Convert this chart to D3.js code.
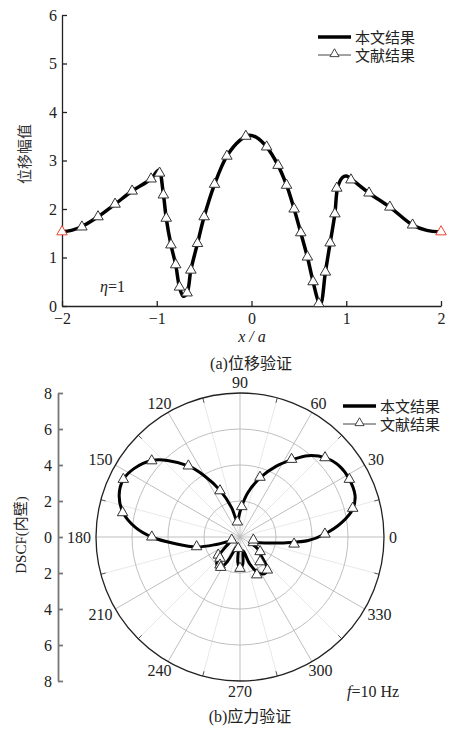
<!DOCTYPE html>
<html>
<head>
<meta charset="utf-8">
<script src="https://cdn.jsdelivr.net/npm/d3@7"></script>
<style>
body { margin: 0; background: #fff; }
text { font-family: "Liberation Serif", "Times New Roman", serif; }
.cjk { font-family: "Noto Sans CJK SC", sans-serif; }
</style>
</head>
<body>
<div id="chart-area"></div>
<script>
// ---- (a) displacement check ----
var xLine = [-2.00,-1.90,-1.79,-1.62,-1.44,-1.26,-1.06,-0.98,-0.93,-0.90,-0.85,-0.80,-0.76,-0.72,-0.68,-0.64,-0.57,-0.50,-0.39,-0.26,-0.12,-0.03,0.05,0.16,0.28,0.37,0.45,0.52,0.59,0.65,0.71,0.73,0.78,0.83,0.88,0.91,0.96,1.00,1.05,1.24,1.46,1.70,1.85,2.00];
var yLine = [1.53,1.56,1.64,1.84,2.10,2.37,2.62,2.80,2.30,1.81,1.26,0.85,0.39,0.20,0.27,0.74,1.29,1.84,2.51,3.09,3.42,3.52,3.48,3.28,2.90,2.49,2.00,1.51,1.01,0.50,0.08,0.05,0.70,1.30,1.90,2.45,2.65,2.68,2.62,2.33,2.04,1.67,1.56,1.53];
var xTri = [-2.00,-1.79,-1.62,-1.44,-1.26,-1.06,-0.97,-0.93,-0.90,-0.85,-0.80,-0.76,-0.68,-0.64,-0.57,-0.50,-0.39,-0.26,-0.06,0.16,0.28,0.37,0.45,0.52,0.59,0.65,0.71,0.78,0.83,0.88,0.90,1.05,1.24,1.46,1.70,2.00];
var yTri = [1.53,1.63,1.84,2.10,2.37,2.62,2.74,2.29,1.81,1.26,0.85,0.39,0.27,0.74,1.29,1.84,2.51,3.09,3.50,3.28,2.90,2.49,2.00,1.51,1.01,0.50,0.05,0.70,1.30,1.90,2.43,2.60,2.33,2.04,1.67,1.53];
var xTicks = [-2,-1,0,1,2];
var yTicks = [0,1,2,3,4,5,6];

// ---- (b) stress check, polar ----
var thetaLine = [-23,-12,-7,-3,2,8,14,20,28,35,43,50,56,63,71,80,87,94,100,106,113,120,126,133,139,147,154,161,168,175,180,186,193,198,205,215,222,230,237,243,250,258,265,270,276,283,290,298,306,312,318,326,333];
var rLine =     [0.8,1.6,2.6,3.8,4.72,5.7,6.46,6.8,6.87,6.8,6.46,5.9,5.18,4.4,3.5,2.5,1.69,1.1,0.85,1.7,2.8,3.9,4.88,5.8,6.48,7.0,7.23,7.1,6.66,5.8,4.9,3.6,2.47,1.3,0.6,1.0,1.6,2.0,2.05,1.5,0.6,0.5,1.4,1.8,1.5,0.8,1.6,2.3,2.45,2.2,1.6,1.2,0.7];
var thetaTri = [2,14.3,27.8,43,56.4,71.5,86.8,100,113.4,126,139.2,153.7,168.3,180,192.6,200,219.7,226.8,234.5,237.5,261,270,294,309.6,309,324,337,347.3,352.6];
var rTri =     [4.72,6.46,6.87,6.46,5.18,3.5,1.69,0.85,2.8,4.88,6.48,7.23,6.66,4.9,2.47,0.49,1.57,1.62,1.91,2.0,0.64,1.74,2.3,2.38,1.77,1.38,0.8,0.76,3.03];
var angleTicks = [0,30,60,90,120,150,180,210,240,270,300,330];
var rTicks = [-8,-6,-4,-2,0,2,4,6,8];
var legendNames = ["本文结果", "文献结果"];

var W = 455, H = 729;
var svg = d3.select("#chart-area").append("svg")
    .attr("width", W).attr("height", H);

var tri = d3.symbol().type(d3.symbolTriangle).size(48);
var fmt = d3.format("d");

// ===== top chart =====
var x = d3.scaleLinear().domain([-2, 2]).range([62, 441]);
var y = d3.scaleLinear().domain([0, 6]).range([306, 15]);

var ga = svg.append("g");

ga.append("g")
    .attr("transform", "translate(62,0)")
    .call(d3.axisLeft(y).tickValues(yTicks).tickFormat(fmt).tickSizeInner(-5).tickSizeOuter(0).tickPadding(5))
    .call(g => g.selectAll("text").attr("font-size", 16).attr("font-family", "Liberation Serif").attr("fill", "#222"))
    .call(g => g.selectAll("line,path").attr("stroke", "#222").attr("stroke-width", 1.3));

ga.append("g")
    .attr("transform", "translate(0,306)")
    .call(d3.axisBottom(x).tickValues(xTicks).tickFormat(fmt).tickSizeInner(-5).tickSizeOuter(0).tickPadding(7))
    .call(g => g.selectAll("text").attr("font-size", 16).attr("font-family", "Liberation Serif").attr("fill", "#222"))
    .call(g => g.selectAll("line,path").attr("stroke", "#222").attr("stroke-width", 1.3));

var lineA = d3.line()
    .x((d, i) => x(xLine[i]))
    .y((d, i) => y(yLine[i]))
    .curve(d3.curveCatmullRom);

ga.append("path")
    .attr("d", lineA(xLine))
    .attr("fill", "none")
    .attr("stroke", "#000")
    .attr("stroke-width", 3.5);

ga.selectAll(".tri")
    .data(xTri)
    .enter().append("path")
    .attr("d", tri)
    .attr("transform", (d, i) => "translate(" + x(d) + "," + y(yTri[i]) + ")")
    .attr("fill", "#fff")
    .attr("stroke", (d, i) => (i === 0 || i === xTri.length - 1) ? "#e8472f" : "#333")
    .attr("stroke-width", 1);

ga.append("text")
    .attr("class", "cjk")
    .attr("transform", "translate(30,154) rotate(-90)")
    .attr("text-anchor", "middle")
    .attr("font-size", 15)
    .attr("fill", "#333")
    .text("位移幅值");

var eta = ga.append("text").attr("x", 100).attr("y", 292).attr("font-size", 16).attr("fill", "#222");
eta.append("tspan").attr("font-style", "italic").text("η");
eta.append("tspan").text("=1");

ga.append("text").attr("x", 252).attr("y", 342).attr("text-anchor", "middle")
    .attr("font-size", 16).attr("font-style", "italic").attr("fill", "#222")
    .text("x / a");

var capA = ga.append("text").attr("x", 251).attr("y", 369).attr("text-anchor", "middle")
    .attr("font-size", 16).attr("fill", "#222");
capA.append("tspan").text("(a)");
capA.append("tspan").attr("class", "cjk").text("位移验证");

// legend
function legend(g, lx, ly) {
    g.append("line").attr("x1", lx).attr("x2", lx + 33).attr("y1", ly).attr("y2", ly)
        .attr("stroke", "#000").attr("stroke-width", 3.5);
    g.append("line").attr("x1", lx).attr("x2", lx + 33).attr("y1", ly + 18).attr("y2", ly + 18)
        .attr("stroke", "#444").attr("stroke-width", 1);
    g.append("path").attr("d", d3.symbol().type(d3.symbolTriangle).size(36))
        .attr("transform", "translate(" + (lx + 16.5) + "," + (ly + 17) + ")")
        .attr("fill", "#fff").attr("stroke", "#444").attr("stroke-width", 1);
    legendNames.forEach((n, i) => {
        g.append("text").attr("class", "cjk").attr("font-size", 15).attr("fill", "#222")
            .attr("x", lx + 37).attr("y", ly + 5.5 + i * 18).text(n);
    });
}
legend(ga, 318, 37);

// ===== polar chart =====
var cx = 240, cy = 537, R = 144;
var r = d3.scaleLinear().domain([0, 8]).range([0, R]);
var gb = svg.append("g");
var rad = a => a * Math.PI / 180;

// minor spokes
d3.range(15, 360, 30).forEach(a => {
    gb.append("line")
        .attr("x1", cx).attr("y1", cy)
        .attr("x2", cx + R * Math.cos(rad(a))).attr("y2", cy - R * Math.sin(rad(a)))
        .attr("stroke", "#e2e2e2").attr("stroke-width", 0.8);
    gb.append("line")
        .attr("x1", cx + (R - 5) * Math.cos(rad(a))).attr("y1", cy - (R - 5) * Math.sin(rad(a)))
        .attr("x2", cx + R * Math.cos(rad(a))).attr("y2", cy - R * Math.sin(rad(a)))
        .attr("stroke", "#555").attr("stroke-width", 1);
});
// major spokes
angleTicks.forEach(a => {
    gb.append("line")
        .attr("x1", cx).attr("y1", cy)
        .attr("x2", cx + R * Math.cos(rad(a))).attr("y2", cy - R * Math.sin(rad(a)))
        .attr("stroke", "#b8b8b8").attr("stroke-width", 0.9);
});
// rings
[2, 4, 6].forEach(v => {
    gb.append("circle").attr("cx", cx).attr("cy", cy).attr("r", r(v))
        .attr("fill", "none").attr("stroke", "#b8b8b8").attr("stroke-width", 0.9);
});
gb.append("circle").attr("cx", cx).attr("cy", cy).attr("r", R)
    .attr("fill", "none").attr("stroke", "#222").attr("stroke-width", 1.3);

// angle labels
angleTicks.forEach(a => {
    var s = String(a), w = s.length * 8, h = 11;
    var c = Math.cos(rad(a)), sn = Math.sin(rad(a));
    gb.append("text")
        .attr("x", cx + (R + 5) * c + c * w / 2)
        .attr("y", cy - (R + 5) * sn - sn * h / 2)
        .attr("text-anchor", "middle").attr("dominant-baseline", "central")
        .attr("font-size", 16).attr("fill", "#222").text(s);
});

// radial axis on the left
var ry = d3.scaleLinear().domain([-8, 8]).range([cy + R, cy - R]);
gb.append("g")
    .attr("transform", "translate(58,0)")
    .call(d3.axisLeft(ry).tickValues(rTicks).tickFormat(d => Math.abs(d)).tickSizeInner(-5).tickSizeOuter(0).tickPadding(6))
    .call(g => g.selectAll("text").attr("font-size", 16).attr("font-family", "Liberation Serif").attr("fill", "#222"))
    .call(g => g.selectAll("line,path").attr("stroke", "#777").attr("stroke-width", 1.8));

var yl = gb.append("text")
    .attr("transform", "translate(26,535) rotate(-90)")
    .attr("text-anchor", "middle").attr("font-size", 15).attr("fill", "#222");
yl.append("tspan").text("DSCF(");
yl.append("tspan").attr("class", "cjk").text("内壁");
yl.append("tspan").text(")");

var lineB = d3.lineRadial()
    .angle((d, i) => rad(90 - thetaLine[i]))
    .radius((d, i) => r(rLine[i]))
    .curve(d3.curveCatmullRomClosed);

gb.append("path")
    .attr("transform", "translate(" + cx + "," + cy + ")")
    .attr("d", lineB(thetaLine))
    .attr("fill", "none")
    .attr("stroke", "#000")
    .attr("stroke-width", 3);

gb.selectAll(".ptri")
    .data(thetaTri)
    .enter().append("path")
    .attr("d", tri)
    .attr("transform", (d, i) => "translate(" + (cx + r(rTri[i]) * Math.cos(rad(d))) + "," + (cy - r(rTri[i]) * Math.sin(rad(d))) + ")")
    .attr("fill", "#fff")
    .attr("stroke", "#333")
    .attr("stroke-width", 1);

legend(gb, 343, 406);

var ft = gb.append("text").attr("x", 347).attr("y", 697).attr("font-size", 16).attr("fill", "#222");
ft.append("tspan").attr("font-style", "italic").text("f");
ft.append("tspan").text("=10 Hz");

var capB = gb.append("text").attr("x", 250).attr("y", 722).attr("text-anchor", "middle")
    .attr("font-size", 16).attr("fill", "#222");
capB.append("tspan").text("(b)");
capB.append("tspan").attr("class", "cjk").text("应力验证");
</script>
</body>
</html>
